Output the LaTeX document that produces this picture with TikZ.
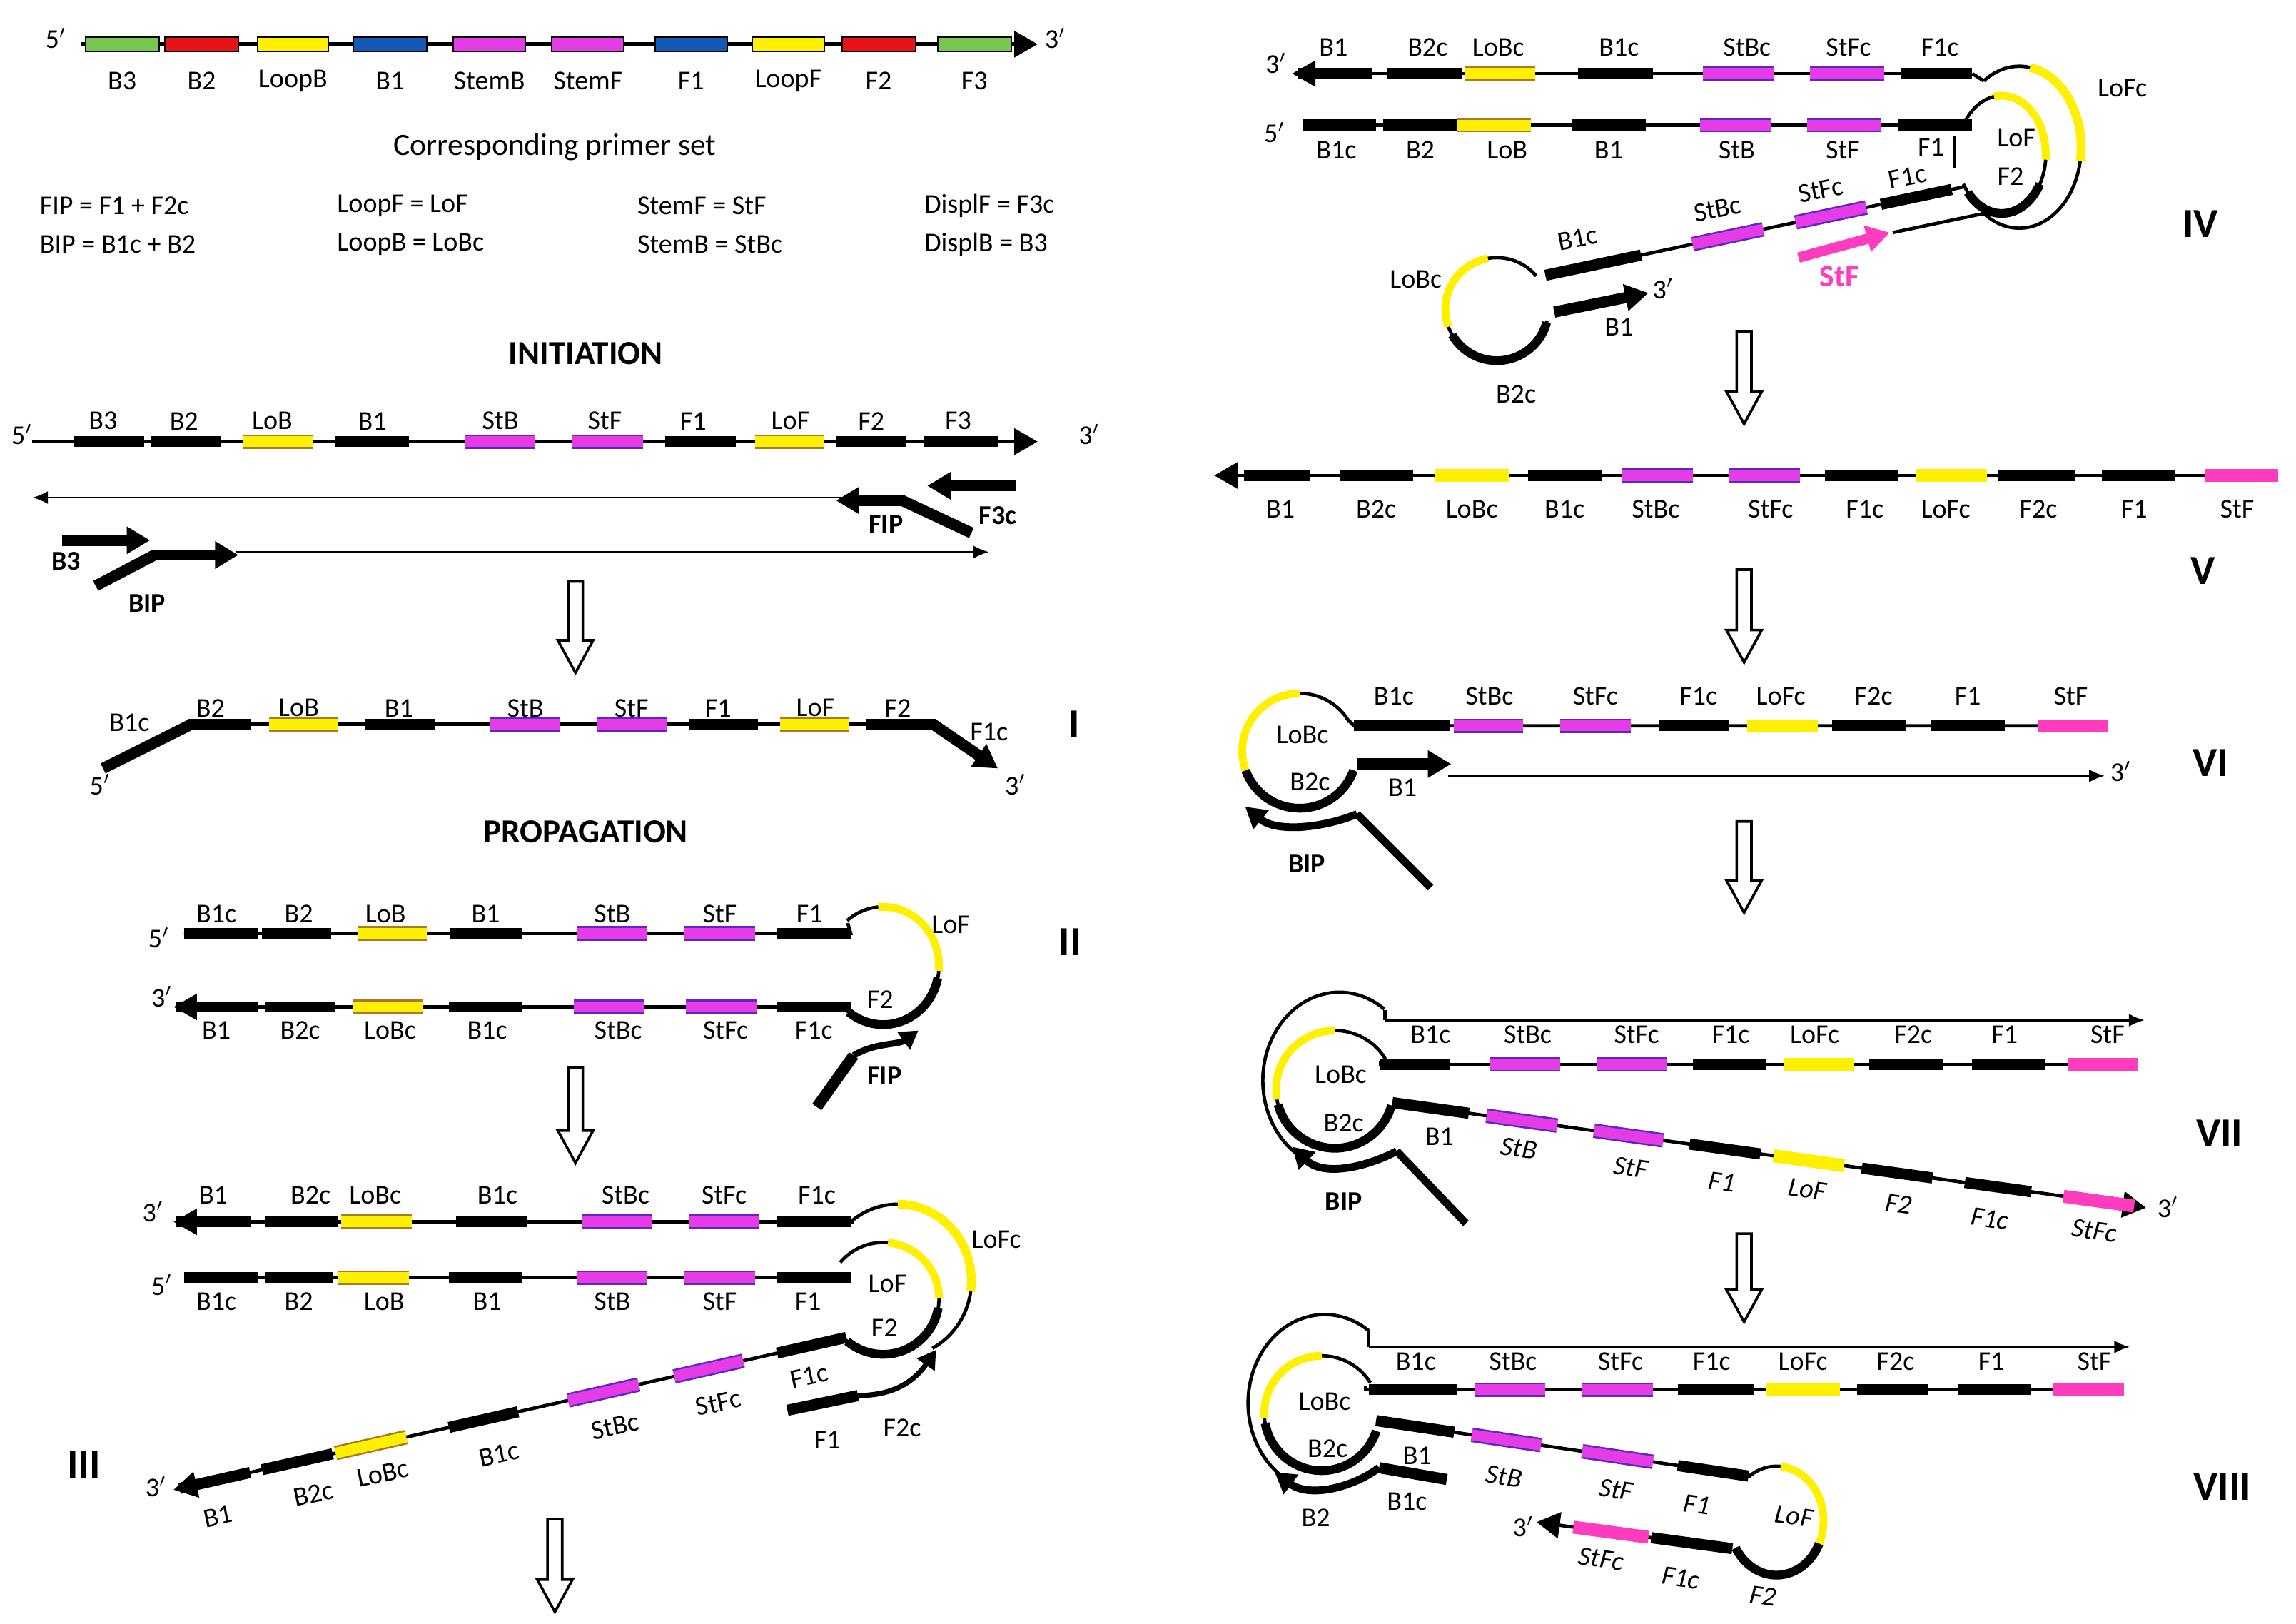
\documentclass[tikz,border=0pt]{standalone}
\usepackage{fontspec}
\setmainfont{Carlito}
\usetikzlibrary{arrows.meta,calc}
\definecolor{yel}{RGB}{255,240,0}
\definecolor{yeledge}{RGB}{170,120,40}
\definecolor{mag}{RGB}{230,60,230}
\definecolor{magedge}{RGB}{90,40,200}
\definecolor{hpink}{RGB}{255,60,190}
\definecolor{cgreen}{RGB}{120,200,80}
\definecolor{cred}{RGB}{230,20,20}
\definecolor{cblue}{RGB}{20,90,180}
\tikzset{
 ln/.style={line width=1.3pt},
 thin/.style={line width=0.8pt},
 bk/.style={line width=4.3pt},
 yarc/.style={line width=3pt,yel},
 karc/.style={line width=3.4pt},
 lab/.style={font=\fontsize{10.5}{12}\selectfont, inner sep=1pt},
 head/.style={font=\bfseries\fontsize{13}{15}\selectfont},
 roman/.style={font=\bfseries\fontsize{16}{18}\selectfont},
 blab/.style={font=\bfseries\fontsize{10.5}{12}\selectfont, inner sep=1pt},
 tip/.style={-{Triangle[length=9pt,width=10pt]}},
 stip/.style={-{Latex[length=6pt,width=5pt]}},
}
\newcommand\pr{$'$}
\newcommand\Bk[2]{\draw[bk] #1 -- #2;}
\newcommand\Cl[3]{\draw[line width=5.6pt,#1edge] #2 -- #3;\draw[line width=4.2pt,#1] #2 -- #3;}
\newcommand\Yl[2]{\Cl{yel}{#1}{#2}}
\newcommand\Mg[2]{\Cl{mag}{#1}{#2}}
\newcommand\Pk[2]{\draw[line width=5pt,hpink] #1 -- #2;}
\newcommand\setl[4]{\def\lxa{#1}\def\lya{#2}\def\lxb{#3}\def\lyb{#4}}
\newcommand\LP[1]{(#1,{\lya+(#1-\lxa)/(\lxb-\lxa)*(\lyb-\lya)})}
% \arcE{style}{cx}{cy}{rx}{ry}{start}{end}
\newcommand\arcE[7]{\draw[#1] ({#2+#4*cos(#6)},{#3+#5*sin(#6)}) arc[start angle=#6,end angle=#7,x radius=#4,y radius=#5];}
\newcommand\hdown[3]{\draw[line width=1pt,fill=white] ({#1-5},#2) -- ({#1+5},#2) -- ({#1+5},{#3-22}) -- ({#1+12},{#3-22}) -- (#1,#3) -- ({#1-12},{#3-22}) -- ({#1-5},{#3-22}) -- cycle;}
\newcommand\topbox[4]{\filldraw[fill=#1,draw=black,line width=0.6pt] (#2,25) rectangle (#3,35); \node[lab] at ({(#2+#3)/2},55) {#4};}
\begin{document}
\begin{tikzpicture}[x=0.2mm,y=-0.2mm]
\useasboundingbox (0,0) rectangle (1560,1103);
% ---------- top map
\draw[ln,tip] (55,30) -- (705,30);
\node[lab] at (38,26) {5\pr}; \node[lab] at (717,26) {3\pr};
\topbox{cgreen}{58}{108}{B3}
\topbox{cred}{112}{162}{B2}
\topbox{yel}{175}{223}{LoopB}
\topbox{cblue}{240}{290}{B1}
\topbox{mag}{308}{357}{StemB}
\topbox{mag}{375}{424}{StemF}
\topbox{cblue}{445}{494}{F1}
\topbox{yel}{511}{560}{LoopF}
\topbox{cred}{572}{622}{F2}
\topbox{cgreen}{637}{687}{F3}
\node[font=\fontsize{12}{14}\selectfont] at (377,100) {Corresponding primer set};
\begin{scope}[every node/.style={lab,anchor=west}]
\node at (25,140) {FIP = F1 + F2c}; \node at (25,166) {BIP = B1c + B2};
\node at (227,140) {LoopF = LoF}; \node at (227,166) {LoopB = LoBc};
\node at (431,140) {StemF = StF}; \node at (431,166) {StemB = StBc};
\node at (626,140) {DisplF = F3c}; \node at (626,166) {DisplB = B3};
\end{scope}
% ---------- initiation
\node[head] at (398,240) {INITIATION};
\draw[ln,tip] (22,300) -- (705,300);
\node[lab] at (15,295) {5\pr}; \node[lab] at (740,295) {3\pr};
\Bk{(50,300)}{(98,300)} \Bk{(103,300)}{(150,300)} \Bk{(228,300)}{(278,300)}
\Bk{(452,300)}{(500,300)} \Bk{(568,300)}{(616,300)} \Bk{(628,300)}{(678,300)}
\Yl{(165,300)}{(213,300)} \Mg{(316,300)}{(363,300)} \Mg{(389,300)}{(437,300)} \Yl{(513,300)}{(560,300)}
\foreach \x/\t in {70/B3,125/B2,185/LoB,253/B1,340/StB,411/StF,471/F1,537/LoF,592/F2,651/F3}
  \node[lab] at (\x,286) {\t};
\draw[thin,stip] (600,338) -- (22,338);
\draw[bk,tip] (615,340) -- (568,340);
\draw[bk] (613,340) -- (660,362);
\draw[bk,tip] (690,330) -- (630,330);
\node[blab] at (602,356) {FIP}; \node[blab] at (678,350) {F3c};
\draw[bk,tip] (42,367) -- (102,367);
\draw[bk] (65,398) -- (105,377);
\draw[bk,tip] (103,377) -- (162,377);
\draw[thin,stip] (160,375) -- (672,375);
\node[blab] at (45,381) {B3}; \node[blab] at (100,410) {BIP};
\hdown{391}{395}{457}
% ---------- I
\draw[ln] (128,492) -- (636,492);
\Bk{(70,522)}{(130,492)} \draw[bk,tip] (634,492) -- (678,522);
\Bk{(128,492)}{(170,492)} \Bk{(248,492)}{(296,492)} \Bk{(468,492)}{(515,492)} \Bk{(588,492)}{(636,492)}
\Yl{(183,492)}{(230,492)} \Mg{(333,492)}{(380,492)} \Mg{(406,492)}{(453,492)} \Yl{(530,492)}{(577,492)}
\foreach \x/\t in {143/B2,203/LoB,271/B1,357/StB,429/StF,488/F1,554/LoF,610/F2}
  \node[lab] at (\x,481) {\t};
\node[lab] at (88,491) {B1c}; \node[lab] at (672,497) {F1c};
\node[lab] at (68,533) {5\pr}; \node[lab] at (690,533) {3\pr};
\node[roman] at (730,492) {I};
\node[head] at (398,565) {PROPAGATION};
% ---------- II
\draw[ln] (125,634) -- (578,634) -- (576,627);
\Bk{(125,634)}{(175,634)} \Bk{(178,634)}{(225,634)} \Bk{(306,634)}{(355,634)} \Bk{(528,634)}{(578,634)}
\Yl{(243,634)}{(290,634)} \Mg{(392,634)}{(440,634)} \Mg{(465,634)}{(513,634)}
\foreach \x/\t in {147/B1c,203/B2,262/LoB,330/B1,416/StB,489/StF,550/F1}
  \node[lab] at (\x,621) {\t};
\node[lab] at (108,637) {5\pr};
\arcE{ln}{600}{656}{38}{40}{-130}{130}
\arcE{yarc}{600}{656}{38}{40}{-95}{5}
\arcE{karc}{600}{656}{38}{40}{12}{128}
\node[lab] at (646,628) {LoF};
\draw[ln,tip] (578,684) -- (118,684);
\Bk{(175,684)}{(120,684)} \Bk{(180,684)}{(228,684)} \Bk{(305,684)}{(355,684)} \Bk{(528,684)}{(578,684)}
\Yl{(240,684)}{(287,684)} \Mg{(390,684)}{(438,684)} \Mg{(466,684)}{(514,684)}
\node[lab] at (598,679) {F2};
\foreach \x/\t in {147/B1,204/B2c,265/LoBc,331/B1c,420/StBc,493/StFc,553/F1c}
  \node[lab] at (\x,700) {\t};
\node[lab] at (110,677) {3\pr};
\draw[bk] (555,752) -- (580,717);
\draw[line width=2.5pt,-{Triangle[length=7pt,width=8pt]}] (580,717) .. controls (595,708) and (610,710) .. (624,700);
\node[blab] at (601,731) {FIP};
\node[roman] at (727,640) {II};
\hdown{391}{725}{790}
% ---------- III
\draw[ln,tip] (580,830) -- (118,830);
\Bk{(170,830)}{(120,830)} \Bk{(180,830)}{(230,830)} \Bk{(310,830)}{(358,830)} \Bk{(528,830)}{(578,830)}
\Yl{(232,830)}{(280,830)} \Mg{(395,830)}{(443,830)} \Mg{(468,830)}{(516,830)}
\foreach \x/\t in {145/B1,211/B2c,255/LoBc,338/B1c,425/StBc,492/StFc,555/F1c}
  \node[lab] at (\x,812) {\t};
\node[lab] at (104,823) {3\pr};
\draw[ln] (125,868) -- (578,868);
\Bk{(125,868)}{(175,868)} \Bk{(180,868)}{(226,868)} \Bk{(305,868)}{(355,868)} \Bk{(528,868)}{(578,868)}
\Yl{(230,868)}{(278,868)} \Mg{(392,868)}{(440,868)} \Mg{(465,868)}{(513,868)}
\foreach \x/\t in {147/B1c,203/B2,261/LoB,331/B1,416/StB,489/StF,549/F1}
  \node[lab] at (\x,884) {\t};
\node[lab] at (110,873) {5\pr};
\arcE{ln}{610}{870}{50}{52}{-130}{62}
\arcE{line width=3.4pt,yel}{610}{870}{50}{52}{-90}{8}
\node[lab] at (677,842) {LoFc};
\arcE{ln}{600}{882}{38}{38}{-140}{135}
\arcE{yarc}{600}{882}{38}{38}{-85}{0}
\arcE{karc}{600}{882}{38}{38}{10}{130}
\node[lab] at (603,872) {LoF}; \node[lab] at (601,902) {F2};
\setl{573}{909}{118}{1012}
\draw[ln,tip] \LP{573} -- \LP{118};
\Bk{\LP{528}}{\LP{575}} \Mg{\LP{458}}{\LP{505}} \Mg{\LP{386}}{\LP{434}} \Bk{\LP{305}}{\LP{352}}
\Yl{\LP{228}}{\LP{276}} \Bk{\LP{178}}{\LP{226}} \Bk{\LP{122}}{\LP{170}}
\begin{scope}[every node/.style={lab,rotate=12}]
\node at (550,935) {F1c}; \node at (488,953) {StFc}; \node at (418,969) {StBc};
\node at (339,988) {B1c}; \node at (260,1001) {LoBc}; \node at (213,1015) {B2c}; \node at (148,1030) {B1};
\end{scope}
\node[lab] at (106,1010) {3\pr};
\Bk{(535,958)}{(583,948)}
\draw[line width=2pt,-{Triangle[length=7pt,width=8pt]}] (583,948) .. controls (605,948) and (620,940) .. (636,917);
\node[lab] at (562,978) {F1}; \node[lab] at (613,970) {F2c};
\node[roman] at (57,995) {III};
\hdown{377}{1032}{1095}
% ---------- IV
\draw[ln,tip] (1340,50) -- (878,50);
\Bk{(932,50)}{(882,50)} \Bk{(942,50)}{(993,50)} \Bk{(1072,50)}{(1123,50)} \Bk{(1292,50)}{(1340,50)}
\Yl{(995,50)}{(1043,50)} \Mg{(1157,50)}{(1205,50)} \Mg{(1230,50)}{(1280,50)}
\foreach \x/\t in {906/B1,970/B2c,1018/LoBc,1100/B1c,1187/StBc,1256/StFc,1318/F1c}
  \node[lab] at (\x,32) {\t};
\node[lab] at (867,43) {3\pr};
\draw[ln] (885,85) -- (1340,85);
\Bk{(885,85)}{(935,85)} \Bk{(940,85)}{(990,85)} \Bk{(1068,85)}{(1118,85)} \Bk{(1290,85)}{(1340,85)}
\Yl{(990,85)}{(1040,85)} \Mg{(1155,85)}{(1203,85)} \Mg{(1228,85)}{(1278,85)}
\foreach \x/\t in {908/B1c,965/B2,1024/LoB,1093/B1,1180/StB,1252/StF}
  \node[lab] at (\x,102) {\t};
\node[lab] at (1312,100) {F1};
\node[lab] at (866,90) {5\pr};
\draw[ln] (1340,50) -- (1348,55);
\arcE{ln}{1372}{100}{42}{55}{-125}{125}
\arcE{line width=3.4pt,yel}{1372}{100}{42}{55}{-80}{10}
\draw[ln] (1348,145) -- (1286,158);
\node[lab] at (1442,60) {LoFc};
\arcE{ln}{1360}{105}{30}{40}{-150}{150}
\arcE{yarc}{1360}{105}{30}{40}{-100}{5}
\arcE{karc}{1360}{105}{30}{40}{30}{140}
\node[lab] at (1370,94) {LoF}; \node[lab] at (1366,120) {F2};
\draw[thin] (1328,92) -- (1328,114);
\setl{1334}{127}{1050}{187}
\draw[ln] \LP{1334} -- \LP{1050};
\Bk{\LP{1278}}{\LP{1326}} \Mg{\LP{1220}}{\LP{1268}} \Mg{\LP{1150}}{\LP{1198}} \Bk{\LP{1050}}{\LP{1115}}
\begin{scope}[every node/.style={lab,rotate=11}]
\node at (1296,120) {F1c}; \node at (1237,129) {StFc}; \node at (1167,142) {StBc}; \node at (1072,162) {B1c};
\end{scope}
\arcE{ln}{1017}{210}{35}{35}{-40}{-347}
\arcE{yarc}{1017}{210}{35}{35}{-100}{-200}
\arcE{karc}{1017}{210}{35}{35}{-210}{-345}
\node[lab] at (962,190) {LoBc}; \node[lab] at (1030,268) {B2c};
\draw[bk,tip] (1056,212) -- (1120,199);
\node[lab] at (1130,196) {3\pr}; \node[lab] at (1100,222) {B1};
\draw[line width=4pt,hpink,-{Triangle[length=9pt,width=10pt]}] (1222,175) -- (1284,158);
\node[font=\bfseries\fontsize{12}{14}\selectfont,text=hpink] at (1250,188) {StF};
\node[roman] at (1495,152) {IV};
\hdown{1185}{225}{288}
% ---------- V
\draw[ln,tip] (1500,323) -- (825,323);
\Bk{(890,323)}{(845,323)} \Bk{(910,323)}{(960,323)} \Bk{(1038,323)}{(1088,323)} \Bk{(1240,323)}{(1290,323)}
\Bk{(1358,323)}{(1410,323)} \Bk{(1428,323)}{(1478,323)}
\draw[line width=5pt,yel] (975,323) -- (1025,323); \draw[line width=5pt,yel] (1302,323) -- (1350,323);
\Mg{(1102,323)}{(1150,323)} \Mg{(1175,323)}{(1223,323)} \Pk{(1498,323)}{(1548,323)}
\foreach \x/\t in {870/B1,935/B2c,1000/LoBc,1063/B1c,1125/StBc,1203/StFc,1267/F1c,1322/LoFc,1385/F2c,1450/F1,1520/StF}
  \node[lab] at (\x,346) {\t};
\node[roman] at (1497,388) {V};
\hdown{1185}{387}{450}
% ---------- VI
\draw[ln] (917,490) -- (920,493) -- (1432,493);
\Bk{(920,493)}{(985,493)} \Bk{(1127,493)}{(1175,493)} \Bk{(1245,493)}{(1295,493)} \Bk{(1312,493)}{(1362,493)}
\Mg{(988,493)}{(1035,493)} \Mg{(1060,493)}{(1108,493)} \draw[line width=5pt,yel] (1187,493) -- (1235,493); \Pk{(1385,493)}{(1432,493)}
\foreach \x/\t in {947/B1c,1012/StBc,1084/StFc,1154/F1c,1210/LoFc,1273/F2c,1337/F1,1407/StF}
  \node[lab] at (\x,473) {\t};
\arcE{ln}{883}{510}{39}{39}{-30}{-340}
\arcE{yarc}{883}{510}{39}{39}{-90}{-200}
\arcE{karc}{883}{510}{39}{39}{-200}{-340}
\node[lab] at (885,499) {LoBc}; \node[lab] at (890,531) {B2c};
\draw[bk,tip] (922,519) -- (986,519);
\draw[thin,stip] (984,527) -- (1430,527);
\node[lab] at (1441,524) {3\pr}; \node[lab] at (953,535) {B1};
\draw[line width=3pt] (972,603) -- (922,553);
\draw[line width=3pt,-{Triangle[length=8pt,width=9pt]}] (922,553) .. controls (900,562) and (868,566) .. (846,548);
\node[blab] at (888,587) {BIP};
\node[roman] at (1502,518) {VI};
\hdown{1185}{558}{620}
% ---------- VII
\draw[thin,stip] (941,693) -- (1457,693);
\draw[ln] (941,693) -- (941,686);
\arcE{ln}{910}{734}{52}{60}{-54}{-240}
\draw[ln] (1453,723) -- (938,723) -- (938,721);
\Bk{(938,723)}{(985,723)} \Bk{(1150,723)}{(1200,723)} \Bk{(1270,723)}{(1320,723)} \Bk{(1340,723)}{(1390,723)}
\Mg{(1012,723)}{(1060,723)} \Mg{(1085,723)}{(1133,723)} \draw[line width=5pt,yel] (1212,723) -- (1260,723); \Pk{(1405,723)}{(1453,723)}
\foreach \x/\t in {972/B1c,1038/StBc,1112/StFc,1176/F1c,1233/LoFc,1300/F2c,1362/F1,1432/StF}
  \node[lab] at (\x,703) {\t};
\arcE{ln}{907}{740}{40}{40}{-31}{-344}
\arcE{yarc}{907}{740}{40}{40}{-90}{-190}
\arcE{karc}{907}{740}{40}{40}{-195}{-344}
\node[lab] at (911,730) {LoBc}; \node[lab] at (913,763) {B2c};
\setl{946}{749}{1455}{820}
\draw[ln,tip] \LP{946} -- \LP{1458};
\Bk{\LP{946}}{\LP{998}} \Bk{\LP{1148}}{\LP{1196}} \Bk{\LP{1265}}{\LP{1313}} \Bk{\LP{1335}}{\LP{1380}}
\Mg{\LP{1010}}{\LP{1058}} \Mg{\LP{1083}}{\LP{1130}} \draw[line width=5pt,yel] \LP{1205} -- \LP{1253}; \Pk{\LP{1402}}{\LP{1450}}
\begin{scope}[every node/.style={lab,rotate=-8,font=\itshape\fontsize{10.5}{12}\selectfont}]
\node at (1032,780) {StB}; \node at (1108,793) {StF}; \node at (1170,803) {F1}; \node at (1228,808) {LoF};
\node at (1290,818) {F2}; \node at (1352,828) {F1c}; \node at (1423,836) {StFc};
\end{scope}
\node[lab] at (978,772) {B1};
\node[lab] at (1473,820) {3\pr};
\draw[line width=3pt] (996,831) -- (949,782);
\draw[line width=3pt,-{Triangle[length=8pt,width=9pt]}] (949,782) .. controls (930,792) and (900,800) .. (878,779);
\node[blab] at (913,816) {BIP};
\node[roman] at (1508,770) {VII};
\hdown{1185}{838}{898}
% ---------- VIII
\draw[thin,stip] (930,915) -- (1447,915);
\draw[ln] (930,915) -- (930,903);
\arcE{ln}{900}{953}{52}{60}{-55}{-240}
\draw[ln] (1443,944) -- (928,944) -- (928,941);
\Bk{(930,944)}{(990,944)} \Bk{(1140,944)}{(1192,944)} \Bk{(1262,944)}{(1310,944)} \Bk{(1330,944)}{(1380,944)}
\Mg{(1002,944)}{(1050,944)} \Mg{(1075,944)}{(1123,944)} \draw[line width=5pt,yel] (1200,944) -- (1250,944); \Pk{(1395,944)}{(1443,944)}
\foreach \x/\t in {962/B1c,1028/StBc,1101/StFc,1163/F1c,1225/LoFc,1288/F2c,1353/F1,1423/StF}
  \node[lab] at (\x,925) {\t};
\arcE{ln}{898}{960}{39}{39}{-32}{-342}
\arcE{yarc}{898}{960}{39}{39}{-90}{-185}
\arcE{karc}{898}{960}{39}{39}{-190}{-342}
\node[lab] at (900,952) {LoBc}; \node[lab] at (902,984) {B2c};
\setl{935}{965}{1190}{1003}
\draw[ln] \LP{935} -- \LP{1190};
\Bk{\LP{935}}{\LP{988}} \Bk{\LP{1140}}{\LP{1188}} \Mg{\LP{1000}}{\LP{1047}} \Mg{\LP{1075}}{\LP{1123}}
\begin{scope}[every node/.style={lab,rotate=-8,font=\itshape\fontsize{10.5}{12}\selectfont}]
\node at (1022,1003) {StB}; \node at (1098,1012) {StF}; \node at (1153,1022) {F1}; \node at (1219,1030) {LoF};
\node at (1088,1059) {StFc}; \node at (1142,1072) {F1c}; \node at (1198,1084) {F2};
\end{scope}
\arcE{ln}{1207}{1033}{32}{37}{-126}{150}
\arcE{yarc}{1207}{1033}{32}{37}{-85}{25}
\arcE{karc}{1207}{1033}{32}{37}{25}{150}
\setl{1177}{1052}{1044}{1034}
\draw[ln,tip] \LP{1177} -- \LP{1044};
\Bk{\LP{1122}}{\LP{1177}} \Pk{\LP{1069}}{\LP{1120}}
\node[lab] at (1035,1037) {3\pr};
\Bk{(937,997)}{(983,1005)}
\draw[line width=3pt,-{Triangle[length=8pt,width=9pt]}] (937,997) .. controls (920,1010) and (890,1018) .. (866,1000);
\node[lab] at (963,989) {B1}; \node[lab] at (956,1020) {B1c}; \node[lab] at (894,1031) {B2};
\node[roman] at (1510,1010) {VIII};
\end{tikzpicture}
\end{document}
